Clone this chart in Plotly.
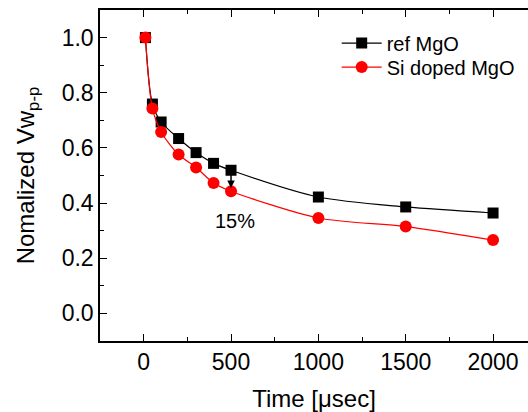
import plotly.graph_objects as go

time_us = [10, 50, 100, 200, 300, 400, 500, 1000, 1500, 2000]
ref_mgo = [1.0, 0.759, 0.694, 0.634, 0.583, 0.544, 0.519, 0.422, 0.386, 0.364]
si_doped_mgo = [1.0, 0.743, 0.658, 0.576, 0.529, 0.473, 0.443, 0.346, 0.315, 0.266]

FONT = "Liberation Sans, Arial, sans-serif"

fig = go.Figure()
fig.add_trace(go.Scatter(
    x=time_us, y=ref_mgo, name="ref MgO", mode="lines+markers",
    line=dict(color="black", width=1.2, shape="spline", smoothing=0.8),
    marker=dict(symbol="square", size=11, color="black"),
    legend="legend",
))
fig.add_trace(go.Scatter(
    x=time_us, y=si_doped_mgo, name="Si doped MgO", mode="lines+markers",
    line=dict(color="red", width=1.2, shape="spline", smoothing=0.8),
    marker=dict(symbol="circle", size=12, color="red"),
    legend="legend2",
))

fig.add_annotation(
    x=time_us[6], y=si_doped_mgo[6] + 0.012, ax=time_us[6], ay=ref_mgo[6],
    xref="x", yref="y", axref="x", ayref="y",
    showarrow=True, arrowhead=2, arrowsize=1, arrowwidth=1.5, arrowcolor="black", text="",
)
fig.add_annotation(
    x=522, y=0.334, xref="x", yref="y", text="15%", showarrow=False,
    font=dict(family=FONT, size=20, color="black"),
)

axis_common = dict(
    showline=True, linecolor="black", linewidth=1.5,
    ticks="inside", ticklen=7, tickwidth=1, tickcolor="black",
    showgrid=False, zeroline=False,
    tickfont=dict(family=FONT, size=23, color="black"),
)

fig.update_xaxes(
    range=[-250, 2200], tickvals=[0, 500, 1000, 1500, 2000], mirror="ticks",
    minor=dict(ticks="inside", ticklen=4, dtick=250, tick0=0, tickcolor="black"),
    title=dict(text="Time [\u03bcsec]", font=dict(family=FONT, size=24, color="black"), standoff=18),
    **axis_common,
)
fig.update_yaxes(
    range=[-0.1, 1.1], tickvals=[0.0, 0.2, 0.4, 0.6, 0.8, 1.0], tickformat=".1f", mirror=False,
    minor=dict(ticks="inside", ticklen=4, dtick=0.1, tick0=0, tickcolor="black"),
    title=dict(text="Nomalized Vw<sub>p-p</sub>", font=dict(family=FONT, size=24, color="black"), standoff=20),
    **axis_common,
)

leg_common = dict(xanchor="left", yanchor="middle",
                  font=dict(family=FONT, size=20, color="black"),
                  bgcolor="rgba(0,0,0,0)", itemwidth=40)
fig.update_layout(
    width=528, height=412,
    margin=dict(l=100, r=0, t=10, b=71),
    paper_bgcolor="white", plot_bgcolor="white",
    showlegend=True,
    legend=dict(x=0.553, y=1 - (43 - 10) / 330.7, **leg_common),
    legend2=dict(x=0.553, y=1 - (67 - 10) / 330.7, **leg_common),
)

fig.write_html("out.html")
